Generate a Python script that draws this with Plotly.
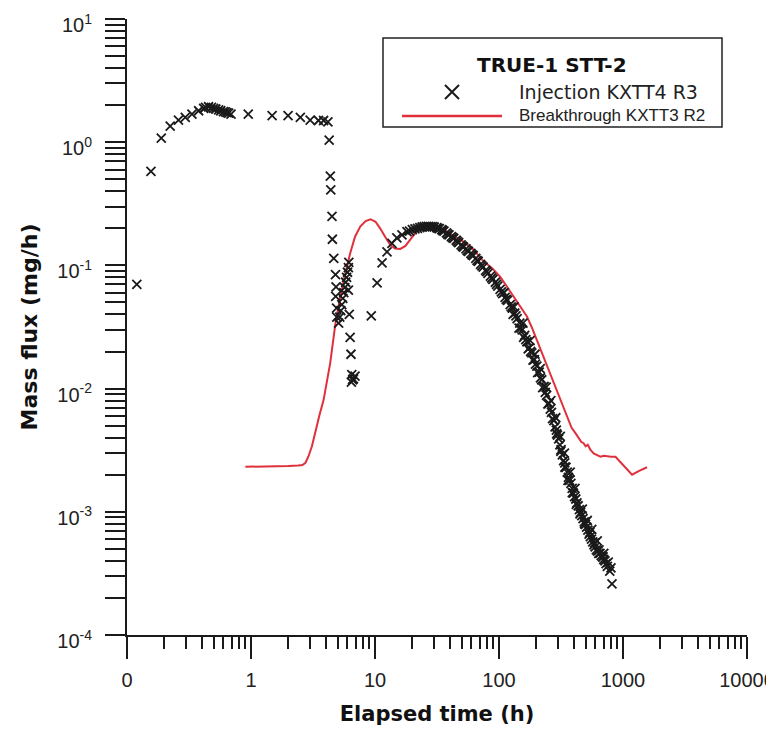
import plotly.graph_objects as go

# ---------------- data ----------------
inj_time = [
    0.12, 0.156, 0.189, 0.223, 0.26, 0.295, 0.334, 0.378, 0.415, 0.43, 0.455, 0.48,
    0.50, 0.52, 0.548, 0.57, 0.60, 0.62, 0.64, 0.66, 0.69,
    0.95, 1.48, 1.99, 2.50, 3.0, 3.5, 3.85, 4.17,
    4.27, 4.36, 4.40, 4.50, 4.53, 4.65, 4.80, 4.85, 4.82, 4.90, 4.92,
    5.09, 5.2, 5.3, 5.4, 5.5, 5.6, 5.7, 5.8, 5.9, 6.0, 6.1, 6.15,
    6.1, 6.2, 6.3, 6.4, 6.5, 6.7, 6.9, 6.45, 6.6,
    9.33, 10.4, 11.4, 12.5, 13.7, 15.0, 16.5, 18.1, 19.0, 20.0, 21.0, 22.0,
    23.0, 24.0, 25.0, 26.0, 27.0, 28.0, 29.0,
    30, 31.5, 33, 34.5, 36, 37.7, 39.5, 41.3, 43.2, 45.2, 47.3, 49.5, 51.8, 54.2,
    56.7, 59.3, 62, 65, 68, 71, 74.5, 78, 81.5, 85.3, 89.3, 93.5, 97.8, 102, 107,
    112, 117, 123, 128, 134, 140, 147, 154, 161, 168, 176, 184, 193, 202, 211, 221,
    231, 242, 253, 265, 277, 290, 303, 317, 332, 347, 363, 380, 398, 416, 435, 455,
    476, 498, 521, 545, 570, 596, 624, 653, 683, 715, 748, 782, 815,
    32.2, 35.2, 38.6, 42.2, 46.2, 50.6, 55.4, 60.6, 66.5, 72.7, 79.7, 87.3, 95.6,
    104.5, 114.5, 125.5, 137, 150.5, 164.5, 180, 197, 216, 236, 259, 283, 296, 310,
    324, 339, 355, 371, 389, 407, 425, 445, 465, 487, 509, 533, 557, 583, 610, 638,
    668, 700, 731,
    110, 132, 156, 178, 195, 215, 240, 262, 287, 312, 337, 375, 410, 470, 515, 560,
    620, 700,
    130, 145, 158, 172, 188, 205, 225, 248, 270, 292, 315, 340, 360, 390, 420, 450,
    490, 540, 590, 640, 690, 760, 800,
]
inj_flux = [
    0.070, 0.58, 1.08, 1.35, 1.51, 1.59, 1.69, 1.80, 1.88, 1.92, 1.94, 1.92,
    1.88, 1.86, 1.83, 1.80, 1.77, 1.76, 1.74, 1.72, 1.69,
    1.69, 1.64, 1.64, 1.59, 1.51, 1.50, 1.50, 1.46,
    1.04, 0.53, 0.41, 0.25, 0.163, 0.114, 0.084, 0.067, 0.056, 0.045, 0.038,
    0.034, 0.038, 0.043, 0.048, 0.054, 0.060, 0.066, 0.073, 0.080, 0.088, 0.096, 0.106,
    0.063, 0.040, 0.026, 0.019, 0.013, 0.012, 0.0126, 0.0113, 0.0118,
    0.039, 0.072, 0.105, 0.129, 0.151, 0.167, 0.177, 0.188, 0.190, 0.195, 0.198, 0.200,
    0.203, 0.205, 0.206, 0.207, 0.207, 0.206, 0.206,
    0.205, 0.203, 0.199, 0.195, 0.190, 0.184, 0.177, 0.171, 0.166, 0.160, 0.153, 0.147,
    0.141, 0.136, 0.130, 0.125, 0.120, 0.114, 0.108, 0.102, 0.097, 0.091, 0.086, 0.082,
    0.077, 0.073, 0.068, 0.064, 0.059, 0.055, 0.052, 0.048, 0.045, 0.041, 0.037, 0.034,
    0.030, 0.027, 0.024, 0.0215, 0.0195, 0.0172, 0.0152, 0.0136, 0.0118, 0.0104, 0.0088,
    0.0076, 0.0064, 0.0055, 0.0046, 0.0039, 0.0032, 0.0026, 0.0023, 0.0019, 0.0017,
    0.00142, 0.00127, 0.00112, 0.00099, 0.00088, 0.00079, 0.00071, 0.00063, 0.00057,
    0.00052, 0.00048, 0.00046, 0.00043, 0.00040, 0.00036, 0.00033, 0.00026,
    0.200, 0.192, 0.179, 0.168, 0.156, 0.143, 0.132, 0.122, 0.110, 0.099, 0.089, 0.079,
    0.070, 0.061, 0.053, 0.046, 0.039, 0.031, 0.025, 0.0200, 0.0158, 0.0122, 0.0093,
    0.0068, 0.0049, 0.0042, 0.0035, 0.0029, 0.0025, 0.0021, 0.0018, 0.00155, 0.00133,
    0.00118, 0.00104, 0.00093, 0.00083, 0.00075, 0.00066, 0.00060, 0.00054, 0.00049,
    0.00046, 0.00044, 0.00041, 0.00038,
    0.060, 0.046, 0.034, 0.0245, 0.019, 0.0145, 0.0103, 0.0080, 0.0058, 0.0041, 0.0030,
    0.0021, 0.00155, 0.00105, 0.00085, 0.00072, 0.00058, 0.00046,
    0.040, 0.031, 0.026, 0.021, 0.0170, 0.0135, 0.0102, 0.0075, 0.0057, 0.0043, 0.0031,
    0.0023, 0.0018, 0.00143, 0.00115, 0.00096, 0.00080, 0.00068, 0.00056, 0.00049,
    0.00043, 0.00039, 0.00035,
]

btc_time = [
    0.9, 1.2, 1.6, 2.0, 2.4, 2.6, 2.75, 2.9, 3.1, 3.3, 3.55, 3.85, 4.35, 4.8, 5.25,
    5.78, 6.3, 6.9, 7.6, 8.4, 9.2, 10.1, 11.0, 12.1, 13.3, 14.5, 16.0, 17.6, 19.3,
    21.1, 23.2, 26.2, 29.5, 33.6, 40.6, 52, 62, 75, 88, 102, 115, 131, 150, 168, 185,
    202, 222, 244, 268, 293, 320, 353, 385, 415, 440, 460, 481, 500, 520, 545, 580,
    620, 657, 700, 743, 800, 870, 1000, 1183, 1350, 1563,
]
btc_flux = [
    0.00232, 0.00232, 0.00232, 0.00235, 0.00238, 0.0024, 0.0025, 0.0028, 0.0034, 0.0045,
    0.0060, 0.0081, 0.016, 0.034, 0.056, 0.086, 0.125, 0.171, 0.207, 0.229, 0.237,
    0.226, 0.200, 0.170, 0.146, 0.137, 0.136, 0.144, 0.162, 0.183, 0.200, 0.207, 0.207,
    0.204, 0.180, 0.155, 0.135, 0.108, 0.095, 0.081, 0.068, 0.0557, 0.046, 0.0385,
    0.031, 0.0248, 0.0195, 0.0151, 0.0122, 0.00975, 0.0077, 0.00592, 0.0048, 0.00433,
    0.0039, 0.0037, 0.0036, 0.0034, 0.0035, 0.0032, 0.00298, 0.0029, 0.0028, 0.00285,
    0.00282, 0.0028, 0.0028, 0.0024, 0.0020, 0.00215, 0.0023,
]

x_tick_vals = [0.1, 1, 10, 100, 1000, 10000]
x_tick_text = ["0", "1", "10", "100", "1000", "10000"]
y_tick_vals = [1e-4, 1e-3, 1e-2, 1e-1, 1, 10]
y_tick_text = ["10<sup>-4</sup>", "10<sup>-3</sup>", "10<sup>-2</sup>",
               "10<sup>-1</sup>", "10<sup>0</sup>", "10<sup>1</sup>"]

legend_title = "TRUE-1 STT-2"
inj_name = "Injection KXTT4 R3"
btc_name = "Breakthrough KXTT3 R2"

x_axis_title = "Elapsed time (h)"
y_axis_title = "Mass flux (mg/h)"

# ---------------- styling ----------------
OFF = 8                      # page body margin of the HTML page
PL, PT, PW, PH = 127, 19, 620, 616   # plot area in window pixels
ML, MT = PL - OFF, PT - OFF
W, H = 766, 721
MR = W - ML - PW
MB = H - MT - PH
INK = "#1a1a1a"
RED = "#e0303c"


def fx(px):
    return (px - PL) / PW


def fy(py):
    return (PT + PH - py) / PH


minor_x = [k * 10 ** n for n in range(-1, 4) for k in range(2, 10)]
minor_y = [k * 10.0 ** n for n in range(-4, 1) for k in range(2, 10)]

fig = go.Figure()

fig.add_trace(go.Scatter(
    x=btc_time, y=btc_flux, mode="lines", name=btc_name,
    line=dict(color=RED, width=2), showlegend=False,
))
fig.add_trace(go.Scatter(
    x=inj_time, y=inj_flux, mode="markers", name=inj_name,
    marker=dict(symbol="x-thin", size=9, color=INK,
                line=dict(color=INK, width=1.8)),
    showlegend=False,
))

# legend marker sample on an invisible overlay axis pair (0..1 = plot area)
fig.add_trace(go.Scatter(
    x=[fx(452)], y=[fy(92)], xaxis="x2", yaxis="y2", mode="markers",
    marker=dict(symbol="x-thin", size=14, color=INK, line=dict(color=INK, width=2)),
    showlegend=False, hoverinfo="skip",
))

tick_font = dict(family="Liberation Sans, Arial, sans-serif", size=20, color="#222")
title_font = dict(family="DejaVu Sans, sans-serif", size=21, color="#111", weight="bold")
ytitle_font = dict(family="DejaVu Sans, sans-serif", size=22, color="#111", weight="bold")

fig.update_layout(
    width=W, height=H,
    margin=dict(l=ML, r=MR, t=MT, b=MB, autoexpand=False),
    paper_bgcolor="white", plot_bgcolor="white",
    showlegend=False,
    xaxis=dict(
        type="log", range=[-1, 4], showgrid=False, zeroline=False,
        showline=True, linecolor=INK, linewidth=2,
        ticks="outside", ticklen=22, tickwidth=2, tickcolor=INK,
        tickvals=x_tick_vals, ticktext=x_tick_text, tickfont=tick_font,
        ticklabeloverflow="allow", ticklabelstandoff=4,
        minor=dict(tickvals=minor_x, ticks="outside", ticklen=12, tickwidth=2,
                   tickcolor=INK, showgrid=False),
        title=dict(text=x_axis_title, font=title_font, standoff=16),
        automargin=False,
    ),
    yaxis=dict(
        type="log", range=[-4, 1], showgrid=False, zeroline=False,
        showline=True, linecolor=INK, linewidth=2,
        ticks="outside", ticklen=20, tickwidth=2, tickcolor=INK,
        tickvals=y_tick_vals, ticktext=y_tick_text, tickfont=tick_font,
        ticklabeloverflow="allow", ticklabelstandoff=9, ticklabelshift=6,
        minor=dict(tickvals=minor_y, ticks="outside", ticklen=20, tickwidth=2,
                   tickcolor=INK, showgrid=False),
        title=dict(text=y_axis_title, font=ytitle_font, standoff=14),
        automargin=False,
    ),
    xaxis2=dict(overlaying="x", range=[0, 1], visible=False, fixedrange=True),
    yaxis2=dict(overlaying="y", range=[0, 1], visible=False, fixedrange=True),
)

# ---------------- hand-built legend box ----------------
fig.add_shape(type="rect", xref="paper", yref="paper",
              x0=fx(383), x1=fx(722), y0=fy(127), y1=fy(38),
              line=dict(color="#222", width=1.5), fillcolor="white", layer="below")
fig.add_shape(type="line", xref="paper", yref="paper",
              x0=fx(402), x1=fx(502), y0=fy(116), y1=fy(116),
              line=dict(color=RED, width=2.5))

fig.add_annotation(xref="paper", yref="paper", x=fx(552), y=fy(65),
                   text="<b>" + legend_title + "</b>", showarrow=False,
                   xanchor="center", yanchor="middle",
                   font=dict(family="DejaVu Sans, sans-serif", size=20, color="#111"))
fig.add_annotation(xref="paper", yref="paper", x=fx(517), y=fy(92),
                   text=inj_name, showarrow=False, xanchor="left", yanchor="middle",
                   font=dict(family="DejaVu Sans, sans-serif", size=19, color="#222"))
fig.add_annotation(xref="paper", yref="paper", x=fx(517), y=fy(116),
                   text=btc_name, showarrow=False, xanchor="left", yanchor="middle",
                   font=dict(family="Liberation Sans, Arial, sans-serif", size=17, color="#222"))

fig.write_html("out.html")
